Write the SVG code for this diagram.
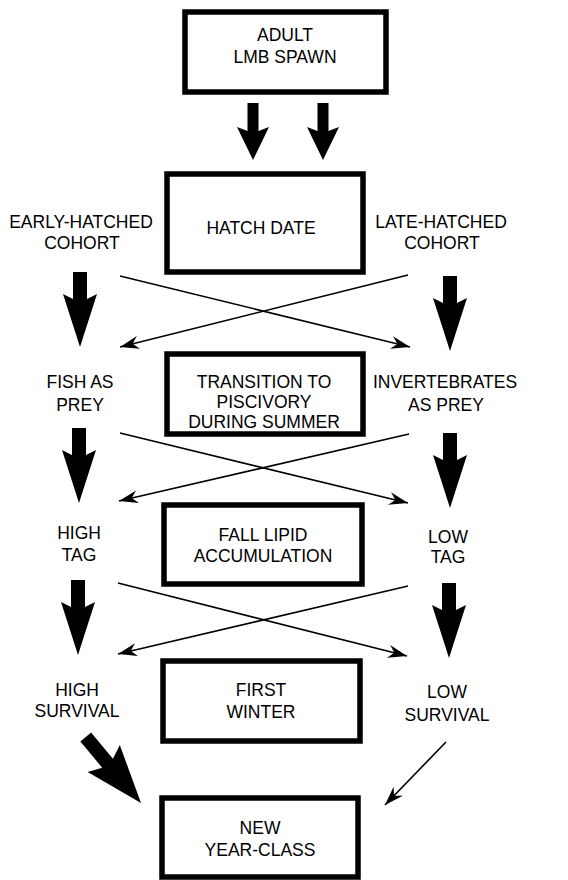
<svg xmlns="http://www.w3.org/2000/svg" width="568" height="880" viewBox="0 0 568 880">
<defs>
<style>
.box{fill:#fff;stroke:#000;stroke-width:5.5}
.t{font-family:"Liberation Sans",Arial,sans-serif;font-size:17.5px;fill:#000;text-anchor:middle}
.thin{stroke:#000;stroke-width:1.6;fill:none;marker-end:url(#ah)}
.big{fill:#000}
</style>
<marker id="ah" markerUnits="userSpaceOnUse" markerWidth="24" markerHeight="16" viewBox="-20 -8 22 16" refX="0" refY="0" orient="auto">
<path d="M0,0 L-19,-6.5 L-13,0 L-19,6.5 Z" fill="#000"/>
</marker>
<path id="sideArrow" d="M-7,-75 L7,-75 L7,-48 L17,-53 L0,0 L-17,-53 L-7,-48 Z"/>
<path id="topArrow" d="M-5.5,-57 L5.5,-57 L5.5,-29 L16,-33 L0,0 L-16,-33 L-5.5,-29 Z"/>
</defs>
<rect width="568" height="880" fill="#fff"/>

<g id="connectors">
<use href="#topArrow" class="big" x="253" y="160"/>
<use href="#topArrow" class="big" x="323" y="160"/>
<use href="#sideArrow" class="big" x="80" y="347"/>
<use href="#sideArrow" class="big" x="450" y="351"/>
<use href="#sideArrow" class="big" x="79" y="503"/>
<use href="#sideArrow" class="big" x="450" y="508"/>
<use href="#sideArrow" class="big" x="78" y="655"/>
<use href="#sideArrow" class="big" x="449" y="658"/>
<path class="big" transform="translate(141,803) rotate(-40)" d="M-7,-86 L7,-86 L7,-52 L21,-58 L0,0 L-21,-58 L-7,-52 Z"/>
<line class="thin" x1="120" y1="276" x2="410" y2="347"/>
<line class="thin" x1="408" y1="275" x2="120" y2="347"/>
<line class="thin" x1="120" y1="433" x2="408" y2="503"/>
<line class="thin" x1="409" y1="434" x2="119" y2="501"/>
<line class="thin" x1="118" y1="583" x2="407" y2="656"/>
<line class="thin" x1="408" y1="586" x2="118" y2="654"/>
<line class="thin" x1="446" y1="742" x2="385" y2="805"/>
</g>

<g id="adult">
<rect class="box" x="185" y="12" width="201" height="80"/>
<text class="t" x="285" y="41">ADULT</text>
<text class="t" x="285" y="63">LMB SPAWN</text>
</g>
<g id="hatch">
<rect class="box" x="167" y="174" width="196" height="98"/>
<text class="t" x="261" y="234">HATCH DATE</text>
</g>
<g id="early">
<text class="t" x="81" y="228">EARLY-HATCHED</text>
<text class="t" x="82" y="249">COHORT</text>
</g>
<g id="late">
<text class="t" x="441" y="228">LATE-HATCHED</text>
<text class="t" x="442" y="249">COHORT</text>
</g>
<g id="transition">
<rect class="box" x="167" y="354" width="196" height="80"/>
<text class="t" x="264" y="388">TRANSITION TO</text>
<text class="t" x="264" y="408">PISCIVORY</text>
<text class="t" x="264" y="428">DURING SUMMER</text>
</g>
<g id="fish">
<text class="t" x="80" y="388">FISH AS</text>
<text class="t" x="80" y="411">PREY</text>
</g>
<g id="invert">
<text class="t" x="445" y="388">INVERTEBRATES</text>
<text class="t" x="446" y="411">AS PREY</text>
</g>
<g id="lipid">
<rect class="box" x="164" y="505" width="198" height="79"/>
<text class="t" x="263" y="541">FALL LIPID</text>
<text class="t" x="263" y="562">ACCUMULATION</text>
</g>
<g id="hightag">
<text class="t" x="79" y="539">HIGH</text>
<text class="t" x="79" y="561">TAG</text>
</g>
<g id="lowtag">
<text class="t" x="448" y="543">LOW</text>
<text class="t" x="448" y="563">TAG</text>
</g>
<g id="winter">
<rect class="box" x="163" y="661" width="197" height="80"/>
<text class="t" x="261" y="696">FIRST</text>
<text class="t" x="261" y="718">WINTER</text>
</g>
<g id="highsurv">
<text class="t" x="77" y="696">HIGH</text>
<text class="t" x="77" y="717">SURVIVAL</text>
</g>
<g id="lowsurv">
<text class="t" x="447" y="698">LOW</text>
<text class="t" x="447" y="721">SURVIVAL</text>
</g>
<g id="yearclass">
<rect class="box" x="162" y="798" width="196" height="79"/>
<text class="t" x="260" y="834">NEW</text>
<text class="t" x="260" y="856">YEAR-CLASS</text>
</g>
</svg>
